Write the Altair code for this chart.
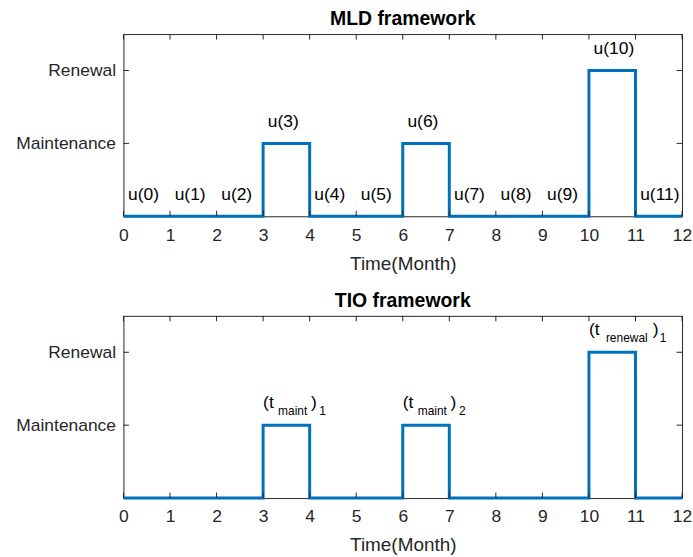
import altair as alt
import pandas as pd

# Monthly decision sequence (0 = none, 1 = maintenance, 2 = renewal);
# the last entry closes the step at month 12.
months = [0, 1, 2, 3, 4, 5, 6, 7, 8, 9, 10, 11, 12]
mld_action = [0, 0, 0, 1, 0, 0, 1, 0, 0, 0, 2, 0, 0]
tio_action = [0, 0, 0, 1, 0, 0, 1, 0, 0, 0, 2, 0, 0]

# Decision variable names of the MLD formulation, one per month
u_names = ["u(0)", "u(1)", "u(2)", "u(3)", "u(4)", "u(5)",
           "u(6)", "u(7)", "u(8)", "u(9)", "u(10)", "u(11)"]

# Event times of the TIO formulation
tio_months = [3, 6, 10]
tio_levels = [1, 1, 2]
tio_kind = ["maint", "maint", "renewal"]
tio_index = ["1", "2", "1"]

x_ticks = [0, 1, 2, 3, 4, 5, 6, 7, 8, 9, 10, 11, 12]
y_ticks = [1, 2]
y_tick_names = ["Maintenance", "Renewal"]

W, H = 561, 183
FONT = "Liberation Sans"
INK = "#262626"
BLUE = "#0072BD"
TICK = 5.5

label_expr = "''"
for v, n in reversed(list(zip(y_ticks, y_tick_names))):
    label_expr = f"datum.value == {v} ? '{n}' : {label_expr}"

x_scale = alt.Scale(domain=[0, 12], nice=False, zero=False)
y_scale = alt.Scale(domain=[0, 2.5], nice=False, zero=False)

x_axis = alt.Axis(values=x_ticks, format="d", title="Time(Month)",
                  domain=False, ticks=False, grid=False,
                  labelFont=FONT, labelFontSize=17.5, labelColor=INK,
                  labelPadding=10, labelFlush=False, labelOverlap=False,
                  titleFont=FONT, titleFontSize=19, titleFontWeight="normal",
                  titleColor=INK, titlePadding=10.5)
y_axis = alt.Axis(values=y_ticks, labelExpr=label_expr, title=None,
                  domain=False, ticks=False, grid=False,
                  labelFont=FONT, labelFontSize=17.5, labelColor=INK,
                  labelPadding=8, minExtent=123)


def X(field):
    return alt.X(f"{field}:Q", scale=x_scale, axis=x_axis)


def Y(field):
    return alt.Y(f"{field}:Q", scale=y_scale, axis=y_axis)


def frame_ticks():
    xt = pd.DataFrame({"month": x_ticks})
    yt = pd.DataFrame({"level": y_ticks})
    rule = dict(color=INK, strokeWidth=1)
    return [
        alt.Chart(xt).mark_rule(**rule).encode(x=X("month"), y=alt.value(H), y2=alt.value(H - TICK)),
        alt.Chart(xt).mark_rule(**rule).encode(x=X("month"), y=alt.value(0), y2=alt.value(TICK)),
        alt.Chart(yt).mark_rule(**rule).encode(y=Y("level"), x=alt.value(0), x2=alt.value(TICK)),
        alt.Chart(yt).mark_rule(**rule).encode(y=Y("level"), x=alt.value(W), x2=alt.value(W - TICK)),
    ]


def step_line(levels):
    df = pd.DataFrame({"month": months, "level": levels})
    return alt.Chart(df).mark_line(
        interpolate="step-after", color=BLUE, strokeWidth=3,
        strokeJoin="miter", strokeCap="butt"
    ).encode(x=X("month"), y=Y("level"))


def panel(layers, title):
    return alt.layer(*layers).properties(
        width=W, height=H,
        title=alt.TitleParams(title, font=FONT, fontSize=19.5, fontWeight="bold",
                              color="black", offset=-11, baseline="alphabetic"),
    )


# MLD panel: one label per monthly decision
mld_df = pd.DataFrame({"month": months[:-1], "level": mld_action[:-1], "name": u_names})
u_text = alt.Chart(mld_df).transform_calculate(
    tx="datum.month + 0.1", ty="datum.level + 0.29"
).mark_text(align="left", baseline="middle", font=FONT, fontSize=17.5, color="black").encode(
    x=X("tx"), y=Y("ty"), text="name:N"
)
top = panel([step_line(mld_action), *frame_ticks(), u_text], "MLD framework")

# TIO panel: event labels (t_kind)_index built from normal and subscript pieces
tio_df = pd.DataFrame({"month": tio_months, "level": tio_levels,
                       "kind": tio_kind, "index": tio_index})
main_style = dict(align="left", baseline="alphabetic", font=FONT, color="black")
offsets = {"maint": (15, 48, 56.5), "renewal": (17, 64, 71)}

tio_text = []
base = alt.Chart(tio_df).transform_calculate(ty="datum.level + 0.3")
tio_text.append(base.mark_text(dy=5, fontSize=17.5, **main_style).encode(
    x=X("month"), y=Y("ty"), text=alt.value("(t")))
for kind, (dx_sub, dx_close, dx_idx) in offsets.items():
    part = base.transform_filter(f"datum.kind == '{kind}'")
    tio_text.append(part.mark_text(dx=dx_sub, dy=12, fontSize=12, **main_style).encode(
        x=X("month"), y=Y("ty"), text="kind:N"))
    tio_text.append(part.mark_text(dx=dx_close, dy=5, fontSize=17.5, **main_style).encode(
        x=X("month"), y=Y("ty"), text=alt.value(")")))
    tio_text.append(part.mark_text(dx=dx_idx, dy=12, fontSize=12, **main_style).encode(
        x=X("month"), y=Y("ty"), text="index:N"))

bottom = panel([step_line(tio_action), *frame_ticks(), *tio_text], "TIO framework")

chart = alt.vconcat(top, bottom, spacing=16).configure(
    padding={"left": 0, "top": 7, "right": 0, "bottom": 0},
    background="white",
).configure_view(stroke=INK, strokeWidth=1)

chart.save("out.html", embed_options={"renderer": "svg", "actions": False})
